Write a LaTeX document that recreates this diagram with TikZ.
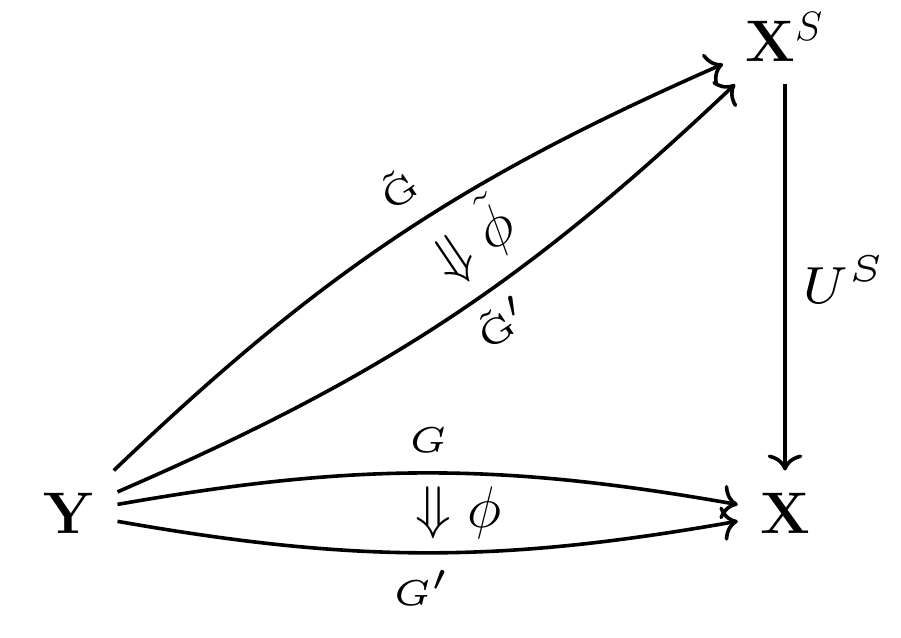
\documentclass[tikz,border=0pt]{standalone}
\usepackage{fix-cm}
\usepackage{graphicx}
\usetikzlibrary{arrows.meta}
\newcommand\mylab[1]{\scalebox{5.4}{\fontsize{5}{6}\selectfont$#1$}}
\newcommand\myulab[1]{\scalebox{5.6}{\fontsize{7}{8}\selectfont$#1$}}
\tikzset{
  obj/.style={font=\fontsize{44}{53}\selectfont, inner sep=16.5pt},
  big/.style={font=\fontsize{44}{53}\selectfont, inner sep=0pt},
  lab/.style={inner sep=0pt},
  arr/.style={line width=2.7pt, -{Computer Modern Rightarrow[length=12pt,width=26pt]}},
}
\begin{document}
\begin{tikzpicture}[x=0.75pt,y=0.75pt]
\useasboundingbox (0,0) rectangle (901,637);
% objects
\node[obj, anchor=base] (Y) at (69.5,104) {$\mathbf{Y}$};
\node[obj, anchor=base] (X) at (785,104) {$\mathbf{X}$};
\node[obj, anchor=base west] (XS) at (723,575) {$\mathbf{X}^S$};
% arrows
\draw[arr] (Y) to[bend left=10] (XS);
\draw[arr] (Y) to[bend right=10] (XS);
\draw[arr] (Y) to[bend left=10] (X);
\draw[arr] (Y) to[bend right=10] (X);
\draw[arr] (XS.south -| X.north) -- (X.north);
% labels
\node[lab, anchor=base west] (US) at (802,333) {\myulab{U^S}};
\node[lab, anchor=base, rotate=34] (Gt) at (407,435) {\mylab{\tilde{\mathrm{G}}}};
\node[big, anchor=base, rotate=34] (phit) at (484,379) {$\Downarrow\tilde\phi$};
\node[lab, anchor=base, rotate=34] (Gtp) at (512,301) {\mylab{\tilde{\mathrm{G}}'}};
\node[lab, anchor=base] (G) at (428,185) {\mylab{G}};
\node[big, anchor=base] (phi) at (458.5,110) {$\Downarrow\phi$};
\node[lab, anchor=base] (Gp) at (422,32) {\mylab{G'}};
\end{tikzpicture}
\end{document}
